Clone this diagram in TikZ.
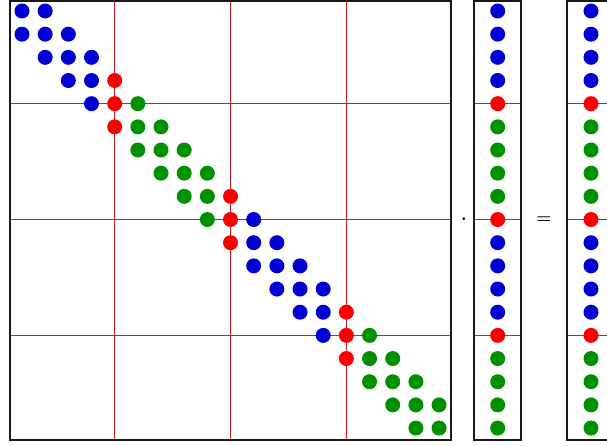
\documentclass[tikz,border=0pt]{standalone}
\definecolor{dblue}{RGB}{0,0,210}
\definecolor{dgreen}{RGB}{0,145,0}
\definecolor{dred}{RGB}{250,0,0}
\definecolor{gridred}{RGB}{205,30,30}
\begin{document}
\begin{tikzpicture}[x=1pt,y=-1pt,
  dot/.style={circle,inner sep=0pt,minimum size=15pt},
  frame/.style={draw=black!90,line width=1.9pt},
  sepline/.style={draw=gridred,line width=1.1pt},
  sym/.style={inner sep=0pt,font=\fontsize{16}{19}\selectfont\boldmath}]
\useasboundingbox (0,0) rectangle (607,446);
\clip (0,0) rectangle (607,446);
% separator lines
\foreach \k in {4,9,14} {
  \pgfmathsetmacro\px{22+23.17*\k}
  \pgfmathsetmacro\py{11+23.17*\k}
  \draw[sepline] (\px,0) -- (\px,440);
  \draw[sepline] (10,\py) -- (451,\py);
  \draw[sepline] (474,\py) -- (521,\py);
  \draw[sepline] (567,\py) -- (614,\py);
}
% frames
\draw[frame] (10,1) rectangle (451,440);
\draw[frame] (474,1) rectangle (521,440);
\draw[frame] (567,1) rectangle (614,440);
% dots
\foreach \j/\c in {0/dblue,1/dblue,2/dblue,3/dblue,4/dred,5/dgreen,6/dgreen,7/dgreen,8/dgreen,9/dred,10/dblue,11/dblue,12/dblue,13/dblue,14/dred,15/dgreen,16/dgreen,17/dgreen,18/dgreen} {
  \pgfmathsetmacro\py{11+23.17*\j}
  \node[dot,fill=\c] (u-\j) at (497.7,\py) {};
  \node[dot,fill=\c] (v-\j) at (591,\py) {};
  \foreach \d in {-1,0,1} {
    \pgfmathtruncatemacro\i{\j+\d}
    \ifnum\i>-1 \ifnum\i<19
      \node[dot,fill=\c] (m-\i-\j) at ({22+23.17*\j},{11+23.17*\i}) {};
    \fi\fi
  }
}
\node[sym] (times) at (464,219) {$\cdot$};
\node[sym] (equals) at (544,220) {$=$};
\end{tikzpicture}
\end{document}
